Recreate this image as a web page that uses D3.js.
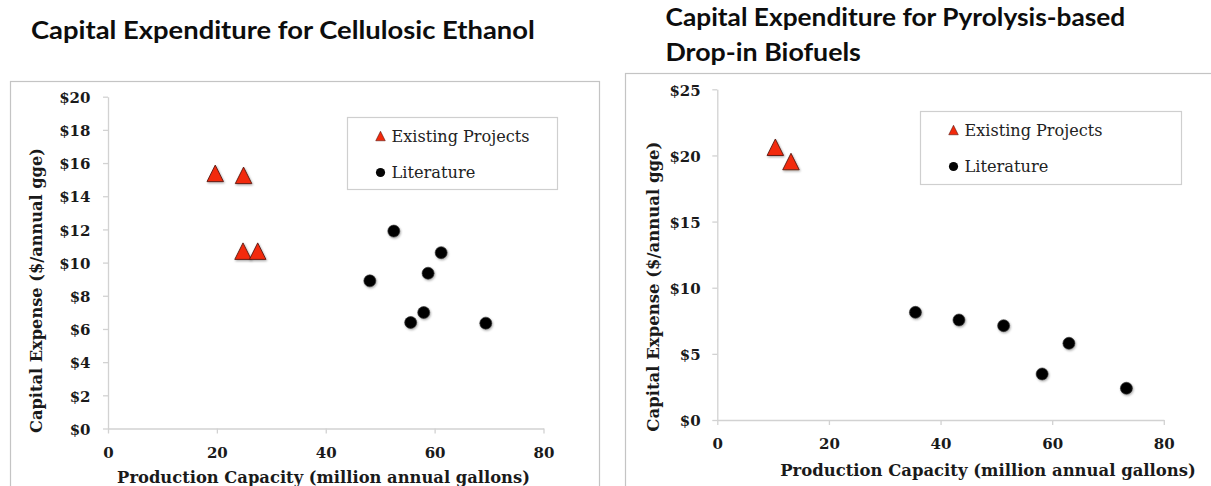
<!DOCTYPE html>
<html><head><meta charset="utf-8">
<script src="https://cdn.jsdelivr.net/npm/d3@7"></script>
<style>
html,body{margin:0;padding:0;background:#fff;}
svg{display:block;}
</style></head>
<body><svg id="c" width="1211" height="486"></svg>
<script>
// ---- Data ----
const ethanolExistingX = [19.7, 24.9, 24.8, 27.5];
const ethanolExistingY = [15.38, 15.26, 10.69, 10.69];
const ethanolLitX = [48.1, 52.5, 55.6, 58.0, 58.8, 61.2, 69.4];
const ethanolLitY = [8.9, 11.9, 6.39, 6.99, 9.36, 10.6, 6.35];
const ethanolYTicks = [0, 2, 4, 6, 8, 10, 12, 14, 16, 18, 20];

const pyroExistingX = [10.4, 13.2];
const pyroExistingY = [20.62, 19.54];
const pyroLitX = [35.5, 43.3, 51.3, 58.2, 63.0, 73.3];
const pyroLitY = [8.14, 7.56, 7.13, 3.48, 5.8, 2.4];
const pyroYTicks = [0, 5, 10, 15, 20, 25];

const xTicks = [0, 20, 40, 60, 80];
const seriesNames = ["Existing Projects", "Literature"];
const xTitle = "Production Capacity (million annual gallons)";
const yTitle = "Capital Expense ($/annual gge)";

const svg = d3.select("#c");
const serif = "'DejaVu Serif', 'Liberation Serif', serif";
const sans = "Lato, 'Open Sans', 'Noto Sans', sans-serif";
const TRI = "#f2290b", TRI_STROKE = "#5a1a12";

const defs = svg.append("defs");
const f = defs.append("filter").attr("id", "sh").attr("x", "-30%").attr("y", "-30%").attr("width", "160%").attr("height", "160%");
f.append("feDropShadow").attr("dx", 0.8).attr("dy", 1.2).attr("stdDeviation", 0.8).attr("flood-color", "#000").attr("flood-opacity", 0.35);

function tri(size){
  const w = size, h = size;
  return `M0,${-h/2}L${w/2},${h/2}L${-w/2},${h/2}Z`;
}

// place text at (cx,cy), rotated by rot, horizontally scaled so its width equals len
function fitText(g, txt, cx, cy, rot, len, anchor, attrs){
  const t = g.append("text").attr("dy", "0.36em").attr("text-anchor", anchor).text(txt);
  Object.entries(attrs).forEach(([k, v]) => t.attr(k, v));
  const w = t.node().getComputedTextLength();
  const s = len / w;
  t.attr("transform", `translate(${cx},${cy}) rotate(${rot}) scale(${s},1)`);
  return t;
}

function panel(cfg){
  const g = svg.append("g");
  g.append("rect").attr("x", cfg.frame[0]+0.5).attr("y", cfg.frame[1]+0.5)
    .attr("width", cfg.frame[2]).attr("height", cfg.frame[3])
    .attr("fill", "none").attr("stroke", "#c4c4c4").attr("stroke-width", 1.2);

  const x = d3.scaleLinear().domain([0, 80]).range(cfg.xr);
  const y = d3.scaleLinear().domain([0, cfg.ymax]).range(cfg.yr);

  const xa = g.append("g").attr("transform", `translate(0,${cfg.yr[0]})`)
    .call(d3.axisBottom(x).tickValues(xTicks).tickSize(5).tickSizeOuter(0).tickFormat(d3.format("d")));
  xa.select(".domain").attr("stroke", "#d2d2d2").attr("stroke-width", 1.3);
  xa.selectAll(".tick line").attr("stroke", "#d2d2d2").attr("stroke-width", 1.3);
  xa.selectAll(".tick text").attr("y", cfg.xLabOff).attr("dy", "0.36em")
    .attr("font-family", serif).attr("font-weight", "bold").attr("font-size", 15).attr("fill", "#1a1a1a");

  const ya = g.append("g").attr("transform", `translate(${cfg.xr[0]},0)`)
    .call(d3.axisLeft(y).tickValues(cfg.yTicks).tickSize(5).tickSizeOuter(0).tickFormat(d => "$" + d));
  ya.select(".domain").attr("stroke", "#d2d2d2").attr("stroke-width", 1.3);
  ya.selectAll(".tick line").attr("stroke", "#d2d2d2").attr("stroke-width", 1.3);
  ya.selectAll(".tick text").attr("x", -cfg.yLabOff).attr("dy", "0.38em")
    .attr("font-family", serif).attr("font-weight", "bold").attr("font-size", 15).attr("fill", "#1a1a1a");

  const titleAttrs = {"font-family": serif, "font-weight": "bold", "font-size": 17.5, "fill": "#1a1a1a"};
  fitText(g, xTitle, cfg.xTitlePos[0], cfg.xTitlePos[1], 0, cfg.xTitleLen, "middle", titleAttrs);
  fitText(g, yTitle, cfg.yTitlePos[0], cfg.yTitlePos[1], -90, cfg.yTitleLen, "middle", titleAttrs);

  const exist = d3.zip(cfg.ex, cfg.ey), lit = d3.zip(cfg.lx, cfg.ly);
  g.selectAll(".lit").data(lit).join("circle").attr("class", "lit")
    .attr("cx", d => x(d[0])).attr("cy", d => y(d[1])).attr("r", 6)
    .attr("fill", "#050505").attr("stroke", "#333").attr("stroke-width", 0.6).attr("filter", "url(#sh)");
  g.selectAll(".ex").data(exist).join("path").attr("class", "ex")
    .attr("transform", d => `translate(${x(d[0])},${y(d[1])})`)
    .attr("d", tri(16.5)).attr("fill", TRI).attr("stroke", TRI_STROKE).attr("stroke-width", 0.9)
    .attr("stroke-linejoin", "miter").attr("filter", "url(#sh)");

  const L = cfg.legend;
  g.append("rect").attr("x", L[0]+0.5).attr("y", L[1]+0.5).attr("width", L[2]).attr("height", L[3])
    .attr("fill", "#fff").attr("stroke", "#cfcfcf").attr("stroke-width", 1.2);
  const mx = L[0] + 33.5;
  const rows = [L[1] + 19, L[1] + 55.5];
  g.append("path").attr("transform", `translate(${mx},${rows[0]})`).attr("d", tri(9.5))
    .attr("fill", TRI).attr("stroke", TRI_STROKE).attr("stroke-width", 0.6);
  g.append("circle").attr("cx", mx).attr("cy", rows[1]).attr("r", 4.6).attr("fill", "#050505");
  const legAttrs = {"font-family": serif, "font-size": 16.5, "fill": "#222"};
  fitText(g, seriesNames[0], mx + 11, rows[0], 0, 138, "start", legAttrs);
  fitText(g, seriesNames[1], mx + 11, rows[1], 0, 84, "start", legAttrs);

  const ttlAttrs = {"font-family": sans, "font-weight": "bold", "font-size": 24, "fill": "#0d0d0d"};
  cfg.title.forEach((t, i) => {
    fitText(g, t, cfg.titlePos[0], cfg.titlePos[1] + i * 34.5, 0, cfg.titleLen[i], "start", ttlAttrs);
  });
}

panel({
  frame: [10, 81, 589, 420],
  xr: [108, 543.5], yr: [428.5, 96.7], ymax: 20, yTicks: ethanolYTicks,
  xLabOff: 24, yLabOff: 17.5,
  xTitlePos: [323.5, 476.5], xTitleLen: 413,
  yTitlePos: [36, 290.5], yTitleLen: 285,
  ex: ethanolExistingX, ey: ethanolExistingY, lx: ethanolLitX, ly: ethanolLitY,
  legend: [347, 117, 210, 72],
  title: ["Capital Expenditure for Cellulosic Ethanol"], titlePos: [31, 30], titleLen: [504]
});

panel({
  frame: [625, 73, 600, 430],
  xr: [717.3, 1163.8], yr: [420, 89.3], ymax: 25, yTicks: pyroYTicks,
  xLabOff: 24, yLabOff: 16.6,
  xTitlePos: [988, 469.3], xTitleLen: 416,
  yTitlePos: [653, 286.7], yTitleLen: 290,
  ex: pyroExistingX, ey: pyroExistingY, lx: pyroLitX, ly: pyroLitY,
  legend: [920, 111, 261, 73],
  title: ["Capital Expenditure for Pyrolysis-based", "Drop-in Biofuels"], titlePos: [665.5, 17.5], titleLen: [460, 195.5]
});
</script>
</body></html>
